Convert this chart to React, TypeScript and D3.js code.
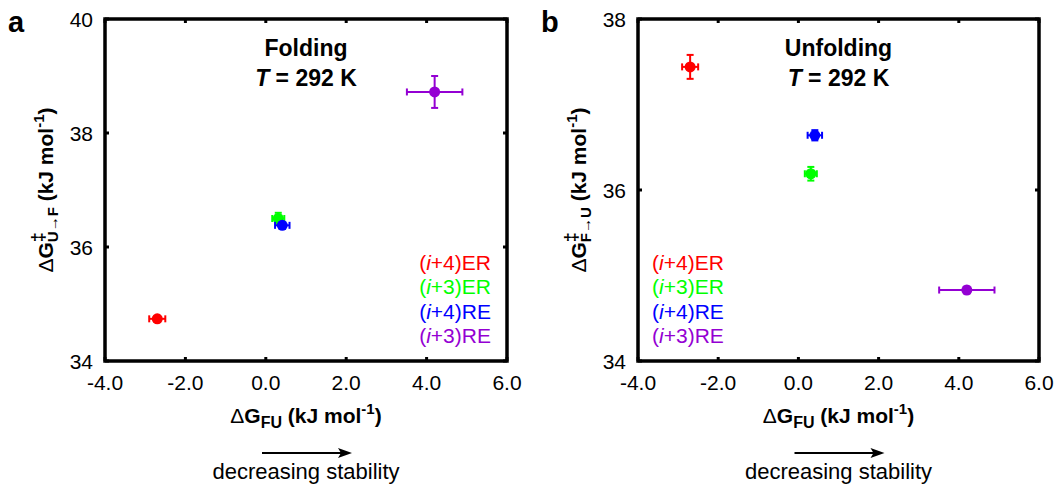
import React from "react";
import * as d3 from "d3";

const seriesNames = ["i+4|ER", "i+3|ER", "i+4|RE", "i+3|RE"];
const seriesColors = ["#ff0000", "#00ff00", "#0000ff", "#9400d3"];
const dGFU = [-2.7, 0.31, 0.41, 4.2];
const dGFUErr = [0.2, 0.15, 0.18, 0.69];
const foldBarrier = [34.74, 36.5, 36.38, 38.72];
const foldBarrierErr = [0.05, 0.1, 0.05, 0.28];
const unfoldBarrier = [37.44, 36.19, 36.64, 34.83];
const unfoldBarrierErr = [0.14, 0.08, 0.06, 0.04];
const xTicks = [-4, -2, 0, 2, 4, 6];
const foldYTicks = [34, 36, 38, 40];
const unfoldYTicks = [34, 36, 38];

const FONT = "'Liberation Sans', Arial, Helvetica, sans-serif";

type PanelProps = {
  left: number;
  right: number;
  letter: string;
  title: string;
  yDomain: [number, number];
  yTicks: number[];
  yVals: number[];
  yErr: number[];
  ySub: string;
  legendSide: "right" | "left";
};

function Panel(p: PanelProps) {
  const top = 19;
  const bottom = 361;
  const x = d3.scaleLinear().domain([-4, 6]).range([p.left, p.right]);
  const y = d3.scaleLinear().domain(p.yDomain).range([bottom, top]);
  const cx = (p.left + p.right) / 2;
  const cy = (top + bottom) / 2;
  const tickLen = 4;
  const cap = 3.5;
  const legendX = p.legendSide === "right" ? p.right - 16 : p.left + 14;
  const anchor = p.legendSide === "right" ? "end" : "start";
  return (
    <g fontFamily={FONT}>
      <text x={p.left - 97} y={32} fontSize={29} fontWeight="bold">{p.letter}</text>
      {/* title */}
      <text x={cx} y={56} fontSize={23} fontWeight="bold" textAnchor="middle">{p.title}</text>
      <text x={cx} y={86} fontSize={23} fontWeight="bold" textAnchor="middle">
        <tspan fontStyle="italic">T</tspan> = 292 K
      </text>
      {/* ticks */}
      {xTicks.map((t) => (
        <g key={"x" + t}>
          <line x1={x(t)} x2={x(t)} y1={bottom} y2={bottom - tickLen} stroke="#000" strokeWidth={3} />
          <line x1={x(t)} x2={x(t)} y1={top} y2={top + tickLen} stroke="#000" strokeWidth={3} />
          <text x={x(t)} y={390} fontSize={21} textAnchor="middle">{t.toFixed(1)}</text>
        </g>
      ))}
      {p.yTicks.map((t) => (
        <g key={"y" + t}>
          <line x1={p.left} x2={p.left + tickLen} y1={y(t)} y2={y(t)} stroke="#000" strokeWidth={3} />
          <line x1={p.right} x2={p.right - tickLen} y1={y(t)} y2={y(t)} stroke="#000" strokeWidth={3} />
          <text x={p.left - 12} y={y(t) + 7.5} fontSize={21} textAnchor="end">{t}</text>
        </g>
      ))}
      {/* frame */}
      <rect x={p.left} y={top} width={p.right - p.left} height={bottom - top} fill="none" stroke="#000" strokeWidth={3.5} />
      {/* points */}
      {dGFU.map((v, i) => {
        const px = x(v);
        const py = y(p.yVals[i]);
        const x0 = x(v - dGFUErr[i]);
        const x1 = x(v + dGFUErr[i]);
        const y0 = y(p.yVals[i] - p.yErr[i]);
        const y1 = y(p.yVals[i] + p.yErr[i]);
        const c = seriesColors[i];
        return (
          <g key={i} stroke={c} strokeWidth={2}>
            <line x1={x0} x2={x1} y1={py} y2={py} />
            <line x1={x0} x2={x0} y1={py - cap} y2={py + cap} />
            <line x1={x1} x2={x1} y1={py - cap} y2={py + cap} />
            <line x1={px} x2={px} y1={y0} y2={y1} />
            <line x1={px - cap} x2={px + cap} y1={y0} y2={y0} />
            <line x1={px - cap} x2={px + cap} y1={y1} y2={y1} />
            <circle cx={px} cy={py} r={5.5} fill={c} stroke="none" />
          </g>
        );
      })}
      {/* legend */}
      {seriesNames.map((n, i) => {
        const [a, b] = n.split("|");
        return (
          <text key={n} x={legendX} y={270 + i * 24.4} fontSize={21} fill={seriesColors[i]} textAnchor={anchor}>
            (<tspan fontStyle="italic">i</tspan>{a.slice(1)}){b}
          </text>
        );
      })}
      {/* x title */}
      <text x={cx} y={423} fontSize={21} fontWeight="bold" textAnchor="middle">
        <tspan fontWeight="normal">Δ</tspan>G<tspan fontSize={16} dy={5}>FU</tspan>
        <tspan dy={-5}> (kJ mol</tspan>
        <tspan fontSize={15} dy={-9}>-1</tspan>
        <tspan dy={9}>)</tspan>
      </text>
      {/* y title */}
      <text transform={`translate(${p.left - 52},${cy}) rotate(-90)`} fontSize={21} fontWeight="bold" textAnchor="middle">
        <tspan fontWeight="normal">Δ</tspan>G<tspan fontSize={18} dy={-9}>‡</tspan>
        <tspan fontSize={15} dx={-10} dy={14}>{p.ySub}</tspan>
        <tspan dy={-5}> (kJ mol</tspan>
        <tspan fontSize={15} dy={-9}>-1</tspan>
        <tspan dy={9}>)</tspan>
      </text>
      {/* arrow */}
      <line x1={cx - 44} x2={cx + 38} y1={453} y2={453} stroke="#000" strokeWidth={2} />
      <path d={`M${cx + 46},453 L${cx + 32},448 L${cx + 35},453 L${cx + 32},458 Z`} fill="#000" />
      <text x={cx} y={479} fontSize={22} textAnchor="middle">decreasing stability</text>
    </g>
  );
}

export default function App() {
  return (
    <svg width={1060} height={484} style={{ position: "absolute", left: 0, top: 0, background: "#fff" }}>
      <rect x={0} y={0} width={1060} height={484} fill="#fff" />
      <Panel left={105} right={507} letter="a" title="Folding" yDomain={[34, 40]} yTicks={foldYTicks}
        yVals={foldBarrier} yErr={foldBarrierErr} ySub="U→F" legendSide="right" />
      <Panel left={638} right={1039} letter="b" title="Unfolding" yDomain={[34, 38]} yTicks={unfoldYTicks}
        yVals={unfoldBarrier} yErr={unfoldBarrierErr} ySub="F→U" legendSide="left" />
    </svg>
  );
}
